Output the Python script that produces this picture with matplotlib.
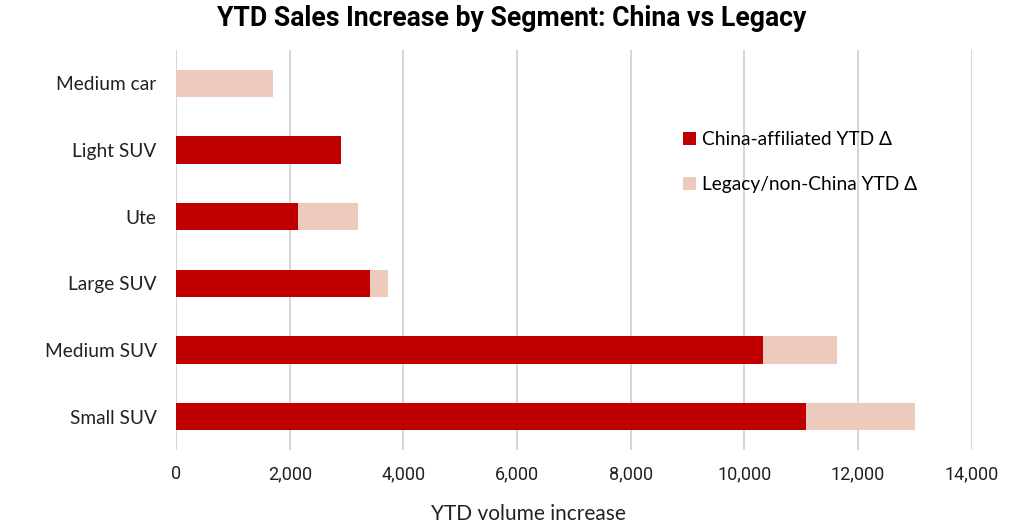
import matplotlib.pyplot as plt
from matplotlib import font_manager

segments = ['Small SUV', 'Medium SUV', 'Large SUV', 'Ute', 'Light SUV', 'Medium car']
china = [11080, 10330, 3410, 2150, 2900, 0]
legacy = [1920, 1300, 320, 1050, 0, 1700]
xticks = [0, 2000, 4000, 6000, 8000, 10000, 12000, 14000]

names = {f.name for f in font_manager.fontManager.ttflist}
narrow = 'Liberation Sans Narrow' if 'Liberation Sans Narrow' in names else 'Roboto'
plt.rcParams['font.family'] = ['Lato', 'DejaVu Sans']

fig = plt.figure(figsize=(10.24, 5.32), dpi=100)
ax = fig.add_axes([0.172, 0.154, 0.777, 0.752])

ypos = range(len(segments))
ax.barh(ypos, china, height=0.41, color='#C00000', label='China-affiliated YTD Δ', zorder=3)
ax.barh(ypos, legacy, left=china, height=0.41, color='#EDCBBC',
        label='Legacy/non-China YTD Δ', zorder=3)

ax.set_xlim(0, 14000)
ax.set_ylim(-0.5, 5.5)
ax.set_xticks(xticks)
ax.set_xticklabels([f'{v:,}' for v in xticks], fontfamily=narrow, fontsize=13)
ax.set_yticks(list(ypos))
ax.set_yticklabels(segments, fontsize=13.8)
ax.tick_params(length=0, pad=11, axis='x', colors='#222222')
ax.tick_params(length=0, pad=14, axis='y', colors='#222222')
for s in ax.spines.values():
    s.set_visible(False)
ax.grid(axis='x', color='#D0D0D0', linewidth=1.2, zorder=0)
ax.set_axisbelow(True)

ax.set_xlabel('YTD volume increase', fontsize=15, color='#222222')
ax.xaxis.set_label_coords(0.443, -0.135)
fig.suptitle('YTD Sales Increase by Segment: China vs Legacy', fontfamily=narrow,
             fontweight='bold', fontsize=19.2, y=0.99)

ax.legend(loc='upper left', bbox_to_anchor=(0.615, 0.84), frameon=False, fontsize=13.8,
          handlelength=0.7, handleheight=0.7, handletextpad=0.3, labelspacing=1.45)

fig.savefig('out.png', dpi=100)
